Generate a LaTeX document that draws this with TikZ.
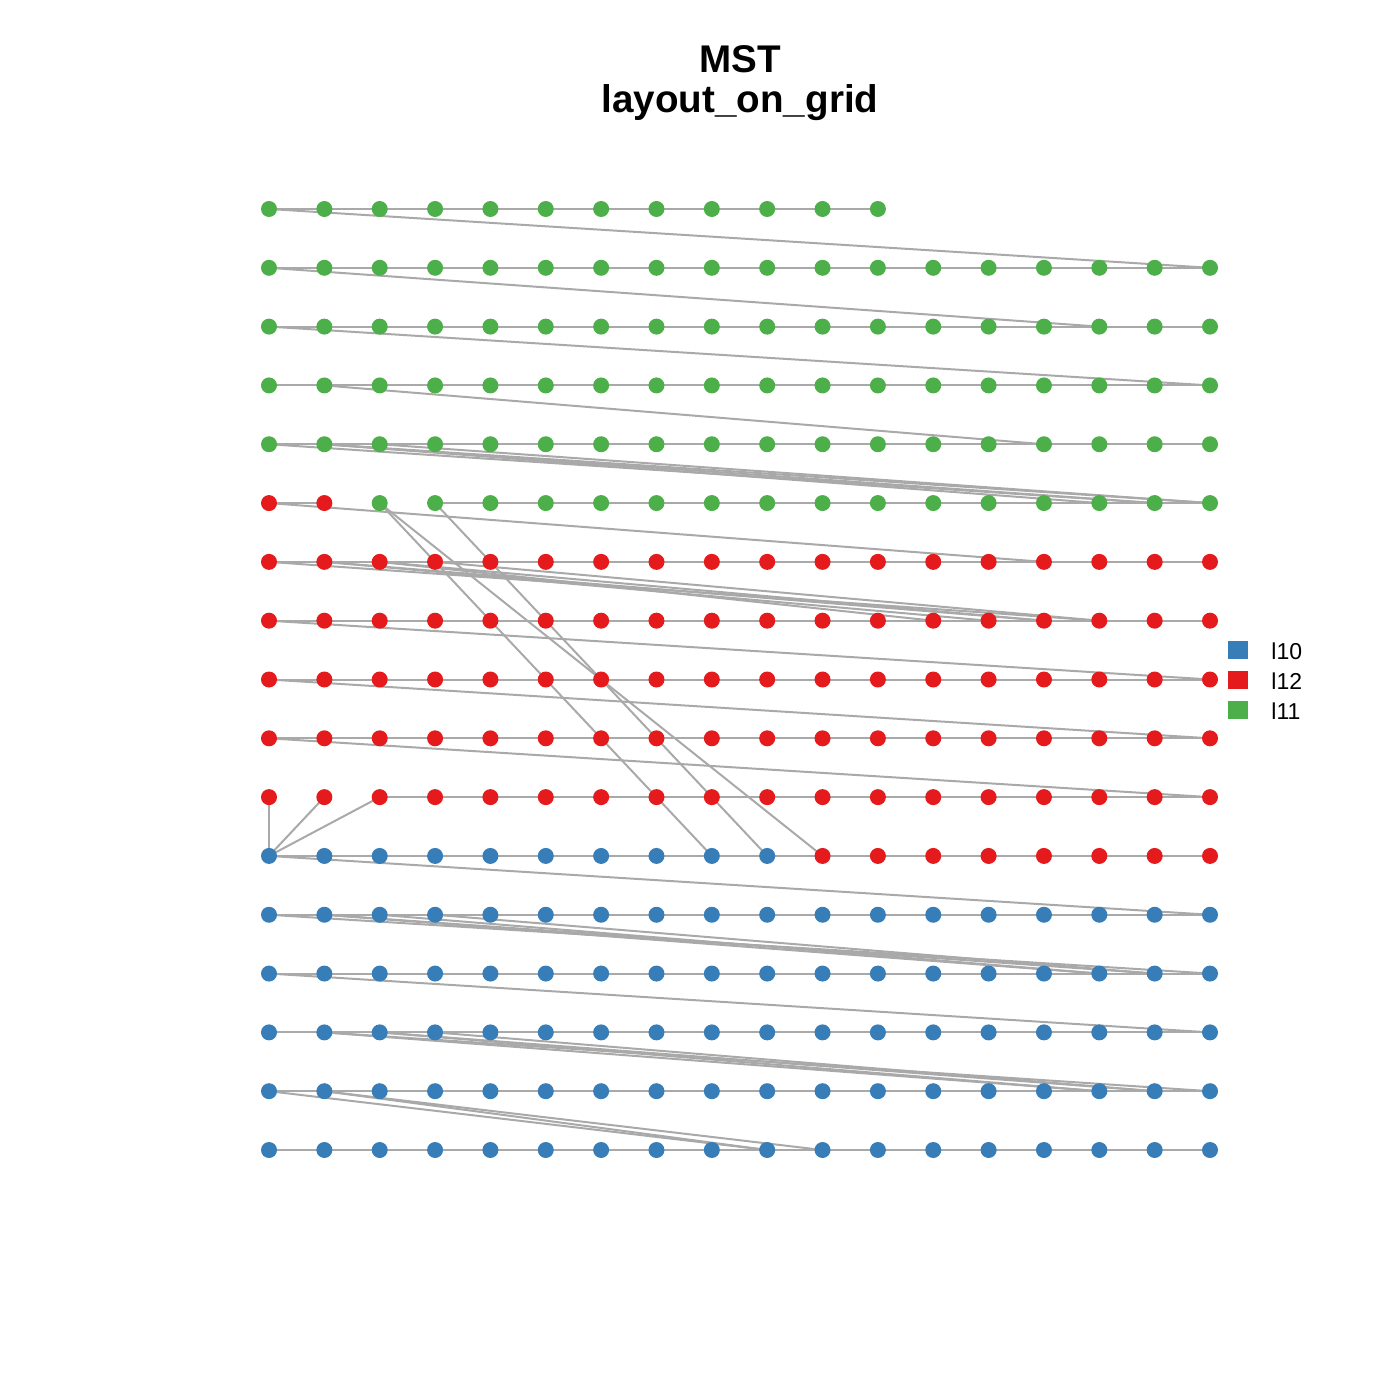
\documentclass[tikz,border=0pt]{standalone}
\usepackage{fontspec}
\setmainfont{Liberation Sans}
\usetikzlibrary{backgrounds}
\definecolor{cG}{HTML}{4DAF4A}
\definecolor{cR}{HTML}{E41A1C}
\definecolor{cB}{HTML}{377EB8}
\definecolor{cE}{HTML}{A9A9A9}
\tikzset{
  dot/.style={circle,inner sep=0pt,minimum size=8pt,draw=none},
  dotG/.style={dot,fill=cG},
  dotR/.style={dot,fill=cR},
  dotB/.style={dot,fill=cB},
  edge/.style={draw=cE,line width=1pt},
  legsq/.style={rectangle,inner sep=0pt,minimum width=10pt,minimum height=9pt,draw=none},
  legtx/.style={anchor=west,font=\fontsize{11.5}{13}\selectfont,inner sep=0pt},
  ttl/.style={font=\bfseries\fontsize{19.3}{22}\selectfont,inner sep=0pt,anchor=base}
}
\newcommand{\gx}[1]{269+(#1-1)*55.353}
\newcommand{\gy}[1]{209+(#1-1)*58.8125}
\begin{document}
\begin{tikzpicture}[x=0.5pt,y=-0.5pt]
\useasboundingbox (0,0) rectangle (1400,1400);
% title
\node[ttl] (t1) at (740,73) {MST};
\node[ttl] (t2) at (740,113) {layout\_on\_grid};
% nodes
\foreach \c in {1,...,12} \node[dotG] (n-1-\c) at ({\gx{\c}},{\gy{1}}) {};
\foreach \r in {2,...,5} \foreach \c in {1,...,18} \node[dotG] (n-\r-\c) at ({\gx{\c}},{\gy{\r}}) {};
\foreach \c in {1,2} \node[dotR] (n-6-\c) at ({\gx{\c}},{\gy{6}}) {};
\foreach \c in {3,...,18} \node[dotG] (n-6-\c) at ({\gx{\c}},{\gy{6}}) {};
\foreach \r in {7,...,11} \foreach \c in {1,...,18} \node[dotR] (n-\r-\c) at ({\gx{\c}},{\gy{\r}}) {};
\foreach \c in {1,...,10} \node[dotB] (n-12-\c) at ({\gx{\c}},{\gy{12}}) {};
\foreach \c in {11,...,18} \node[dotR] (n-12-\c) at ({\gx{\c}},{\gy{12}}) {};
\foreach \r in {13,...,17} \foreach \c in {1,...,18} \node[dotB] (n-\r-\c) at ({\gx{\c}},{\gy{\r}}) {};
% legend
\node[legsq,fill=cB] (lb) at (1238,650) {};
\node[legsq,fill=cR] (lr) at (1238,680) {};
\node[legsq,fill=cG] (lg) at (1238,710) {};
\node[legtx] (lbt) at (1271,651) {l10};
\node[legtx] (lrt) at (1271,681) {l12};
\node[legtx] (lgt) at (1271,711) {l11};
% edges
\begin{scope}[on background layer]
% edges along the rows
\draw[edge] (n-1-1.center) -- (n-1-12.center);
\foreach \rr in {2,3,4,5,7,8,9,10,12,13,14,15,16,17}
  {\draw[edge] (n-\rr-1.center) -- (n-\rr-18.center);}
\draw[edge] (n-6-1.center) -- (n-6-2.center);
\draw[edge] (n-6-4.center) -- (n-6-18.center);
\draw[edge] (n-11-3.center) -- (n-11-18.center);
% links between rows
\foreach \a/\b in {
  1-1/2-18, 2-1/3-16, 3-1/4-18, 4-2/5-15,
  5-1/6-17, 5-2/6-16, 5-2/6-17, 5-2/6-18, 5-3/6-18,
  6-1/7-15,
  7-1/8-16, 7-2/8-14, 7-2/8-15, 7-3/8-15, 7-3/8-13, 7-4/8-16,
  8-1/9-18, 9-1/10-18, 10-1/11-18,
  11-1/12-1, 11-2/12-1, 11-3/12-1,
  6-3/12-9, 6-3/12-11, 6-4/12-10,
  12-1/13-18,
  13-1/14-18, 13-2/14-17, 13-2/14-16, 13-3/14-16, 13-4/14-17,
  14-1/15-18,
  15-2/16-18, 15-2/16-16, 15-3/16-17, 15-3/16-16, 15-4/16-17,
  16-1/17-10, 16-2/17-10, 16-2/17-11}
  \draw[edge] (n-\a.center) -- (n-\b.center);
\end{scope}
\end{tikzpicture}
\end{document}
